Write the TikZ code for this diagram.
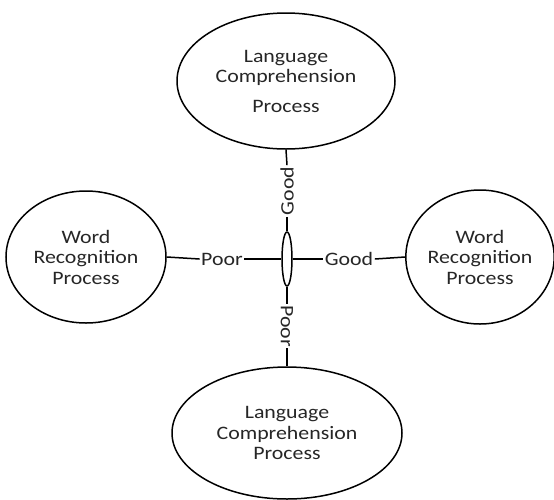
\documentclass[tikz,border=0pt]{standalone}
\usepackage{fontspec}
\setmainfont{Carlito}[FakeStretch=1.15]
\usetikzlibrary{shapes.geometric}
\begin{document}
\begin{tikzpicture}[x=1pt,y=-1pt,
  proc/.style={ellipse,draw=black,line width=1.5pt,inner sep=0pt,align=center,
    text=black!85,font=\fontsize{19}{20.5}\selectfont},
  lbl/.style={inner sep=1.5pt,text=black!85,font=\fontsize{19}{20.5}\selectfont},
  conn/.style={draw=black,line width=1.5pt}]
\useasboundingbox (0,0) rectangle (554,499);
\node[proc,minimum width=218pt,minimum height=136pt] (top) at (286,81)
  {Language\\Comprehension\\[9pt]Process};
\node[proc,minimum width=230pt,minimum height=132pt] (bot) at (287,433)
  {Language\\Comprehension\\Process};
\node[proc,minimum width=160pt,minimum height=132pt] (left) at (86,257)
  {Word\\Recognition\\Process};
\node[proc,minimum width=146pt,minimum height=134pt] (right) at (480,257)
  {Word\\Recognition\\Process};
\node[ellipse,draw=black,line width=1.5pt,inner sep=0pt,minimum width=10pt,minimum height=54pt] (c) at (287,259) {};
\node[lbl,rotate=90] (gv) at (287,191) {Good};
\node[lbl,rotate=-90] (pv) at (287,326) {Poor};
\node[lbl] (ph) at (222,259) {Poor};
\node[lbl] (gh) at (349,259) {Good};
\draw[conn] (top.south) -- (gv.east);
\draw[conn] (gv.west) -- (c.north);
\draw[conn] (c.south) -- (pv.west);
\draw[conn] (pv.east) -- (bot.north);
\draw[conn] (left.east) -- (ph.west);
\draw[conn] (ph.east) -- (c.west);
\draw[conn] (c.east) -- (gh.west);
\draw[conn] (gh.east) -- (right.west);
\end{tikzpicture}
\end{document}
